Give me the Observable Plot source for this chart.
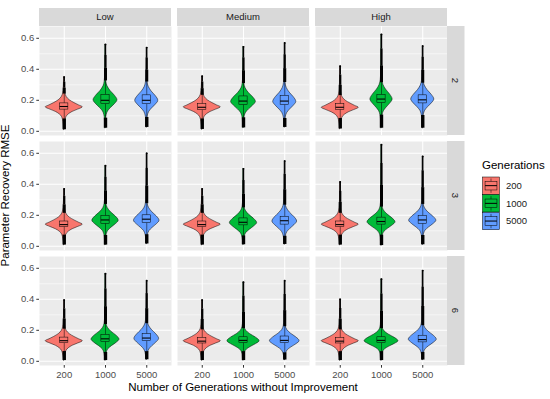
<!DOCTYPE html>
<html><head><meta charset="utf-8">
<script src="https://cdn.jsdelivr.net/npm/d3@7"></script>
<script src="https://cdn.jsdelivr.net/npm/@observablehq/plot@0.6"></script>
<style>
body{margin:0;background:#fff;}
#chart{width:550px;height:399px;}
</style>
</head><body><div id="chart"></div>
<script>
// ---------- data ----------
const rows = ["2", "3", "6"];                 // facet rows
const cols = ["Low", "Medium", "High"];       // facet columns
const gens = ["200", "1000", "5000"];         // x categories / legend
const colors = ["#F8766D", "#00BA38", "#619CFF"];
const yTicks = [0, 0.2, 0.4, 0.6];
const yMinor = [0.1, 0.3, 0.5];

// per violin, ordered row -> column -> generation
const modes = [
  .155,.200,.197, .155,.190,.190, .152,.205,.205,
  .140,.165,.165, .140,.150,.160, .140,.155,.165,
  .130,.140,.145, .130,.130,.130, .130,.130,.140];
const medians = [
  .160,.200,.200, .155,.195,.195, .155,.208,.203,
  .140,.170,.175, .140,.155,.165, .140,.160,.170,
  .133,.145,.150, .130,.135,.135, .130,.135,.140];
const q1s = [
  .140,.175,.175, .137,.170,.170, .138,.183,.180,
  .125,.145,.150, .125,.135,.140, .125,.140,.145,
  .117,.125,.130, .115,.118,.118, .115,.118,.122];
const q3s = [
  .180,.235,.232, .175,.225,.228, .175,.235,.232,
  .160,.195,.200, .160,.180,.190, .160,.185,.195,
  .153,.170,.175, .150,.155,.160, .150,.155,.165];
const mins = [
  .010,.020,.025, .012,.022,.025, .015,.020,.020,
  .008,.008,.015, .008,.010,.012, .008,.005,.010,
  .005,.005,.010, .005,.005,.008, .005,.005,.008];
const maxs = [
  .350,.560,.540, .355,.545,.570, .420,.625,.550,
  .370,.520,.600, .370,.500,.550, .415,.655,.580,
  .395,.565,.520, .395,.510,.520, .400,.530,.585];
const halfWidths = [
  .45,.29,.28, .45,.30,.28, .45,.27,.28,
  .45,.32,.31, .45,.33,.30, .45,.34,.33,
  .45,.34,.30, .45,.39,.36, .45,.41,.34];
const spreads = [
  1,1,1, 1,.97,1, 1,1.05,1,
  1,.9,.93, 1,.88,.95, 1,.85,.88,
  1,.85,.95, 1,.75,.8, 1,.72,.85];

// violin outline shapes (offset from mode, relative half-width)
const redOffsets  = [-0.14,-0.095,-0.065,-0.045,-0.03,-0.015,0,0.012,0.027,0.045,0.065,0.09,0.12,0.16];
const redWidths   = [0.02, 0.05, 0.11, 0.25, 0.45, 0.75, 1, 0.80, 0.55, 0.30, 0.14, 0.06, 0.03, 0.015];
const kiteOffsets = [-0.16,-0.12,-0.095,-0.072,-0.05,-0.025,0,0.03,0.06,0.09,0.12,0.17];
const kiteWidths  = [0.03, 0.05, 0.10, 0.21, 0.45, 0.78, 1, 0.78, 0.42, 0.17, 0.07, 0.03];

// ---------- build tables ----------
const violins = [];
rows.forEach((r, ri) => cols.forEach((c, ci) => gens.forEach((g, gi) => {
  const i = ri * 9 + ci * 3 + gi;
  const iqr = q3s[i] - q1s[i];
  const wHi = Math.min(maxs[i], q3s[i] + 1.5 * iqr);
  const wLo = Math.max(mins[i], q1s[i] - 1.5 * iqr);
  const span = maxs[i] - wHi;
  violins.push({id: i, row: r, col: c, gen: g, pos: gi + 1,
    mode: modes[i], median: medians[i], q1: q1s[i], q3: q3s[i],
    min: mins[i], max: maxs[i], hw: halfWidths[i], spread: spreads[i],
    wHi, wLo, t1: wHi + 0.35 * span, t2: wHi + 0.7 * span});
})));

const violinPts = [];
for (const v of violins) {
  const offs = v.gen === "200" ? redOffsets : kiteOffsets;
  const ws = v.gen === "200" ? redWidths : kiteWidths;
  const base = {id: v.id, row: v.row, col: v.col, gen: v.gen, pos: v.pos};
  violinPts.push({...base, y: v.min, w: 0.015 * v.hw});
  offs.forEach((o, k) => {
    const y = v.mode + o * v.spread;
    if (y > v.min + 0.003 && y < v.max - 0.003) violinPts.push({...base, y, w: ws[k] * v.hw});
  });
  violinPts.push({...base, y: v.max, w: 0.004});
}

const font = "'Liberation Sans', Arial, Helvetica, sans-serif";
const boxHW = 0.1;
const F = {fx: "col", fy: "row"};

const plot = Plot.plot({
  width: 550, height: 399,
  marginLeft: 39, marginRight: 103, marginTop: 25, marginBottom: 34,
  style: {fontFamily: font, background: "white", overflow: "visible"},
  x: {domain: [0.4, 3.6], label: null},
  y: {domain: [-0.027, 0.676], label: null},
  fx: {domain: cols, paddingInner: 0.0435, paddingOuter: 0, axis: null, label: null},
  fy: {domain: rows, paddingInner: 0.056, paddingOuter: 0, axis: null, label: null},
  color: {domain: gens, range: colors},
  marks: [
    Plot.frame({fill: "#EBEBEB", stroke: null}),
    Plot.gridY(yMinor, {stroke: "white", strokeOpacity: 1, strokeWidth: 0.55}),
    Plot.gridY(yTicks, {stroke: "white", strokeOpacity: 1, strokeWidth: 1.07}),
    Plot.gridX([1, 2, 3], {stroke: "white", strokeOpacity: 1, strokeWidth: 1.07}),
    Plot.areaX(violinPts, {y: "y", x1: d => d.pos - d.w, x2: d => d.pos + d.w, z: "id", ...F,
      fill: "gen", stroke: "black", strokeWidth: 0.5, curve: "monotone-y"}),
    Plot.ruleX(violins, {x: "pos", y1: "q3", y2: "wHi", ...F, stroke: "black", strokeWidth: 0.5}),
    Plot.ruleX(violins, {x: "pos", y1: "wLo", y2: "q1", ...F, stroke: "black", strokeWidth: 0.5}),
    Plot.ruleX(violins, {x: "pos", y1: "min", y2: "wLo", ...F, stroke: "black", strokeWidth: 3.4}),
    Plot.ruleX(violins, {x: "pos", y1: "wHi", y2: "t1", ...F, stroke: "black", strokeWidth: 3.0}),
    Plot.ruleX(violins, {x: "pos", y1: "t1", y2: "t2", ...F, stroke: "black", strokeWidth: 2.2}),
    Plot.ruleX(violins, {x: "pos", y1: "t2", y2: "max", ...F, stroke: "black", strokeWidth: 1.4}),
    Plot.dot(violins, {x: "pos", y: "max", ...F, r: 0.9, fill: "black", stroke: null}),
    Plot.rect(violins, {x1: d => d.pos - boxHW, x2: d => d.pos + boxHW, y1: "q1", y2: "q3", ...F,
      fill: "gen", stroke: "black", strokeWidth: 0.5}),
    Plot.ruleY(violins, {y: "median", x1: d => d.pos - boxHW, x2: d => d.pos + boxHW, ...F,
      stroke: "black", strokeWidth: 1.1}),
    Plot.axisX({ticks: [1, 2, 3], tickFormat: d => gens[d - 1], tickSize: 2.7, tickPadding: 3,
      fontSize: 9.5, stroke: "#333333", fill: "#4D4D4D", label: null}),
    Plot.axisY({ticks: yTicks, tickFormat: d3.format(".1f"), tickSize: 2.7, tickPadding: 2.5,
      fontSize: 9.5, stroke: "#333333", fill: "#4D4D4D", label: null})
  ]
});

document.getElementById("chart").appendChild(plot);

// ---------- strips, titles, legend ----------
const svg = d3.select(plot.tagName.toLowerCase() === "svg" ? plot : plot.querySelector("svg"));
const fxS = plot.scale("fx"), fyS = plot.scale("fy");
const fxBW = fxS.bandwidth, fyBW = fyS.bandwidth;
const panelRight = fxS.apply(cols[cols.length - 1]) + fxBW;
const panelTop = fyS.apply(rows[0]);
const g = svg.append("g").attr("font-family", font).attr("text-anchor", "start");

cols.forEach(c => {
  const x0 = fxS.apply(c);
  g.append("rect").attr("x", x0).attr("y", panelTop - 18).attr("width", fxBW).attr("height", 18).attr("fill", "#D9D9D9");
  g.append("text").attr("x", x0 + fxBW / 2).attr("y", panelTop - 9).attr("dy", "0.35em")
    .attr("text-anchor", "middle").attr("font-size", 9.5).attr("fill", "#1A1A1A").text(c);
});
rows.forEach(r => {
  const y0 = fyS.apply(r);
  g.append("rect").attr("x", panelRight).attr("y", y0).attr("width", 17.5).attr("height", fyBW).attr("fill", "#D9D9D9");
  g.append("text").attr("transform", `translate(${panelRight + 8.75},${y0 + fyBW / 2}) rotate(90)`)
    .attr("dy", "0.35em").attr("text-anchor", "middle").attr("font-size", 9.5).attr("fill", "#1A1A1A").text(r);
});

const panelLeft = fxS.apply(cols[0]);
const panelBottom = fyS.apply(rows[rows.length - 1]) + fyBW;
g.append("text").attr("x", (panelLeft + panelRight) / 2).attr("y", 391).attr("text-anchor", "middle")
  .attr("font-size", 11.5).attr("fill", "black").text("Number of Generations without Improvement");
g.append("text").attr("transform", `translate(9,${(panelTop + panelBottom) / 2}) rotate(-90)`)
  .attr("text-anchor", "middle").attr("font-size", 11.5).attr("fill", "black").text("Parameter Recovery RMSE");

// legend
const lg = g.append("g").attr("transform", "translate(482,0)");
lg.append("text").attr("x", 0).attr("y", 169).attr("text-anchor", "start").attr("font-size", 11.5)
  .attr("fill", "black").text("Generations");
gens.forEach((gen, k) => {
  const ky = 177 + k * 17.7, kw = 17, kh = 17.3;
  lg.append("rect").attr("x", 0.5).attr("y", ky).attr("width", kw).attr("height", kh)
    .attr("fill", colors[k]).attr("stroke", "black").attr("stroke-width", 0.5);
  lg.append("line").attr("x1", 0.5 + kw / 2).attr("x2", 0.5 + kw / 2).attr("y1", ky + 1.5).attr("y2", ky + kh - 1.5)
    .attr("stroke", "black").attr("stroke-width", 0.5);
  lg.append("rect").attr("x", 0.5 + kw * 0.15).attr("y", ky + kh * 0.25).attr("width", kw * 0.7).attr("height", kh * 0.5)
    .attr("fill", colors[k]).attr("stroke", "black").attr("stroke-width", 0.5);
  lg.append("line").attr("x1", 0.5 + kw * 0.15).attr("x2", 0.5 + kw * 0.85).attr("y1", ky + kh / 2).attr("y2", ky + kh / 2)
    .attr("stroke", "black").attr("stroke-width", 1);
  lg.append("text").attr("x", 24).attr("y", ky + kh / 2).attr("dy", "0.35em").attr("text-anchor", "start")
    .attr("font-size", 9.5).attr("fill", "#1A1A1A").text(gen);
});
</script>
</body></html>
